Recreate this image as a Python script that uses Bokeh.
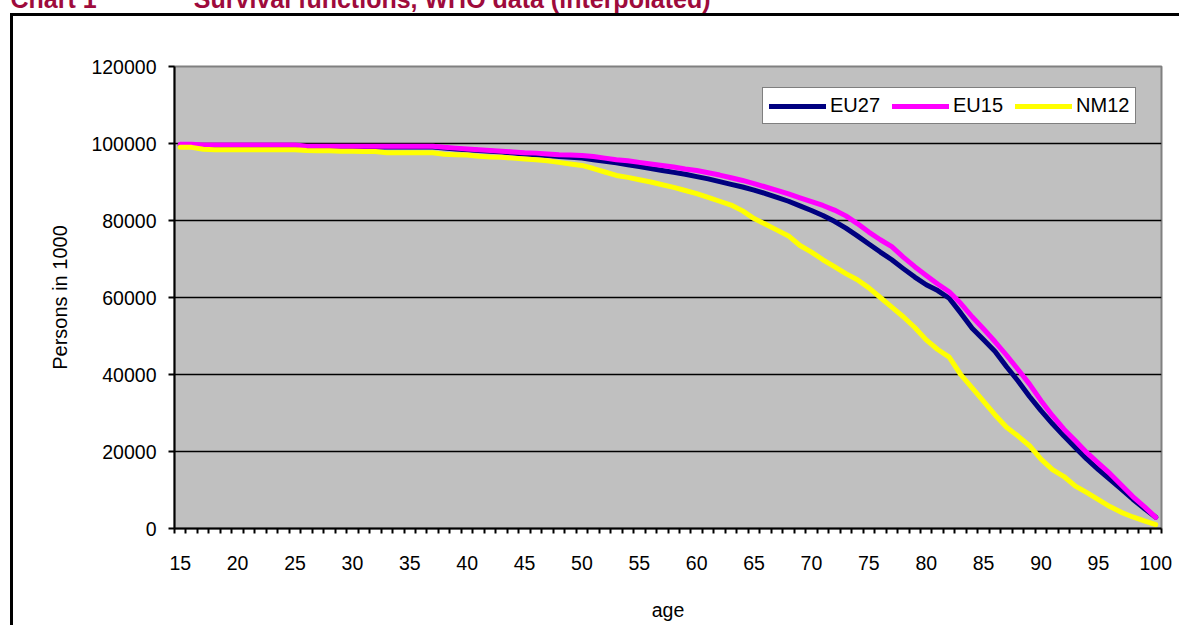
from bokeh.plotting import figure
from bokeh.models import (FixedTicker, Legend, LegendItem,
                          Range1d, CustomJSTickFormatter)
from bokeh.embed import file_html
from bokeh.resources import INLINE

# ---------------- data (values in persons) ----------------
ages = list(range(15, 101))

eu27 = [99500, 99500, 99500, 99500, 99500, 99500, 99500, 99500, 99500, 99500, 99500,
        99100, 99100, 99100, 99100, 99100, 99100, 99100, 99100, 99100, 99100, 99100, 99100,
        98800, 98600, 98400, 98200, 98000, 97800, 97500, 97300, 97100, 96900, 96600, 96400,
        96200, 95800, 95400, 95000, 94500, 94000, 93500, 93000, 92500, 92000, 91400,
        90800, 90100, 89400, 88700, 87900, 87000, 86000, 85000, 83800, 82600,
        81300, 79800, 78000, 76000, 73900, 71800, 69800, 67500, 65300, 63300,
        61800, 59800, 56000, 52000, 49000, 46000, 42000, 38300, 34300, 30600,
        27200, 24000, 21000, 18000, 15300, 12800, 10200, 7600, 5200, 2900]

eu15 = [99800, 99800, 99600, 99600, 99600, 99600, 99600, 99600, 99600, 99600, 99600,
        99300, 99300, 99300, 99300, 99300, 99300, 99300, 99300, 99300, 99300, 99300, 99300,
        99000, 98800, 98600, 98400, 98200, 98000, 97800, 97600, 97500, 97300, 97100, 97000,
        96900, 96600, 96200, 95800, 95500, 95100, 94700, 94300, 93900, 93400, 93000,
        92400, 91800, 91100, 90400, 89600, 88700, 87800, 86900, 85900, 84900,
        83900, 82700, 81200, 79200, 77000, 75000, 73200, 70500, 68000, 65700,
        63500, 61500, 58500, 55000, 51800, 48500, 45000, 41300, 37500, 33200,
        29300, 25800, 22800, 19700, 17000, 14300, 11300, 8300, 5700, 2900]

nm12 = [99000, 99000, 98500, 98400, 98400, 98400, 98400, 98400, 98400, 98400, 98400,
        98200, 98100, 98100, 98000, 98000, 97900, 97900, 97600, 97600, 97600, 97600, 97600,
        97200, 97100, 97000, 96700, 96500, 96400, 96200, 96000, 95800, 95500, 95100, 94700,
        94300, 93500, 92600, 91700, 91200, 90600, 90000, 89300, 88600, 87800, 87000,
        86000, 85000, 84000, 82500, 80500, 79000, 77500, 76000, 73500, 71800,
        69800, 68000, 66200, 64600, 62500, 60000, 57500, 55000, 52200, 49000,
        46500, 44500, 40000, 36500, 33000, 29500, 26300, 24000, 21500, 18000,
        15300, 13500, 11000, 9300, 7500, 5700, 4200, 3000, 2000, 1000]

series_names = ["EU27", "EU15", "NM12"]
series_colors = ["#000080", "#FF00FF", "#FFFF00"]
y_ticks = [0, 20000, 40000, 60000, 80000, 100000, 120000]
x_label_ticks = list(range(15, 101, 5))

chart_no = "Chart 1"
chart_title = "Survival functions, WHO data (interpolated)"
title_color = "#9E0B3C"
FONT = "Liberation Sans"

# ---------------- figure ----------------
SHIFT = 80  # canvas extends above the window so the title is cut like the reference
p = figure(width=1179, height=625 + SHIFT, output_backend="svg", toolbar_location=None,
           x_range=Range1d(14.5, 100.5), y_range=Range1d(0, 120000),
           min_border_left=174, min_border_right=18, min_border_top=66 + SHIFT,
           min_border_bottom=97)
# outer black chart box (left and top edges; the rest runs off the page)
p.styles = {
    "margin-top": f"-{SHIFT}px",
    "background-image": "linear-gradient(#000, #000), linear-gradient(#000, #000)",
    "background-position": f"10px {13 + SHIFT}px, 10px {13 + SHIFT}px",
    "background-size": "3px 2000px, 3000px 3px",
    "background-repeat": "no-repeat",
}
p.background_fill_color = "#C0C0C0"
p.border_fill_color = None
p.outline_line_color = "#808080"
p.outline_line_width = 2

# title ("Chart 1" <tab> title), cut by the top of the page as in the reference
p.title.text = chart_no + "\u00a0" * 14 + chart_title
p.title.text_font = FONT
p.title.text_font_size = "25px"
p.title.text_font_style = "bold"
p.title.text_color = title_color
p.title.align = "left"
p.title.offset = -164
p.title.standoff = 107

renderers = []
for name, col, vals in zip(series_names, series_colors, [eu27, eu15, nm12]):
    r = p.line(ages, vals, line_color=col, line_width=5, line_join="round", line_cap="round")
    renderers.append(r)

# axes
xa = p.xaxis[0]
xa.ticker = FixedTicker(ticks=x_label_ticks, minor_ticks=[a - 0.5 for a in range(15, 102)])
xa.major_tick_out = 0
xa.major_tick_in = 0
xa.minor_tick_out = 5
xa.minor_tick_in = 0
xa.minor_tick_line_color = "black"
xa.minor_tick_line_width = 2
xa.axis_line_color = "black"
xa.axis_line_width = 2
xa.major_label_text_font = FONT
xa.major_label_text_font_size = "19.5px"
xa.major_label_text_color = "black"
xa.major_label_standoff = 22
xa.axis_label = "age"
xa.axis_label_text_font = FONT
xa.axis_label_text_font_size = "19.5px"
xa.axis_label_text_font_style = "normal"
xa.axis_label_text_color = "black"
xa.axis_label_standoff = 26

ya = p.yaxis[0]
ya.ticker = FixedTicker(ticks=y_ticks, minor_ticks=[])
ya.formatter = CustomJSTickFormatter(code="return tick.toFixed(0);")
ya.major_tick_out = 6
ya.major_tick_in = 0
ya.major_tick_line_color = "black"
ya.major_tick_line_width = 2
ya.minor_tick_out = 0
ya.minor_tick_in = 0
ya.axis_line_color = "black"
ya.axis_line_width = 2
ya.major_label_text_font = FONT
ya.major_label_text_font_size = "19.5px"
ya.major_label_text_color = "black"
ya.major_label_standoff = 12
ya.axis_label = "Persons in 1000"
ya.axis_label_text_font = FONT
ya.axis_label_text_font_size = "20px"
ya.axis_label_text_font_style = "normal"
ya.axis_label_text_color = "black"
ya.axis_label_standoff = 17

p.xgrid.grid_line_color = None
p.ygrid.ticker = FixedTicker(ticks=y_ticks[1:-1])
p.ygrid.grid_line_color = "black"
p.ygrid.grid_line_width = 1.5

legend = Legend(items=[LegendItem(label=n, renderers=[r]) for n, r in zip(series_names, renderers)],
                orientation="horizontal", location=(588, 404),
                glyph_width=57, glyph_height=20, label_standoff=4, spacing=12,
                padding=6, margin=0,
                label_text_font=FONT, label_text_font_size="20px",
                label_text_color="black",
                border_line_color="black", border_line_width=1.5,
                background_fill_color="white", background_fill_alpha=1.0)
p.add_layout(legend)

open("out.html", "w").write(file_html(p, INLINE))
